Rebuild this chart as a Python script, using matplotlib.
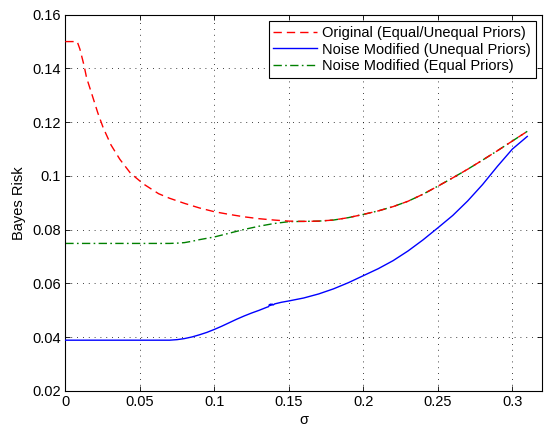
import matplotlib
matplotlib.use("Agg")
import matplotlib.pyplot as plt

plt.rcParams['font.family'] = ['Liberation Sans', 'DejaVu Sans']

# --- data ---
x_orig = [0, 0.008, 0.0098, 0.0125, 0.0143, 0.0175, 0.0218, 0.0254, 0.0307, 0.0366,
          0.0438, 0.0525, 0.0626, 0.07, 0.08, 0.09, 0.10, 0.11, 0.12, 0.13, 0.14,
          0.15, 0.16, 0.17, 0.18, 0.19, 0.20, 0.21, 0.22, 0.23, 0.24, 0.25, 0.26,
          0.27, 0.28, 0.29, 0.30, 0.31]
y_orig = [0.15, 0.15, 0.1472, 0.1413, 0.1365, 0.131, 0.1235, 0.118, 0.1115, 0.1062,
          0.101, 0.097, 0.0934, 0.0917, 0.0898, 0.0881, 0.0867, 0.0857, 0.0848, 0.0841, 0.0836,
          0.0832, 0.0831, 0.0832, 0.0836, 0.0845, 0.0857, 0.0870, 0.0886, 0.0906, 0.0932, 0.0962, 0.0993,
          0.1025, 0.1059, 0.1094, 0.1130, 0.1166]

x_eq = [0, 0.03, 0.06, 0.07, 0.075, 0.08, 0.085, 0.09, 0.10, 0.11, 0.12, 0.13, 0.14,
        0.15, 0.16, 0.17, 0.18, 0.19, 0.20, 0.21, 0.22, 0.23, 0.24, 0.25, 0.26,
        0.27, 0.28, 0.29, 0.30, 0.31]
y_eq = [0.0749, 0.0749, 0.0749, 0.0749, 0.0750, 0.0752, 0.0757, 0.0763, 0.0773, 0.0787, 0.0801, 0.0813, 0.0823,
        0.0830, 0.0831, 0.0832, 0.0836, 0.0845, 0.0857, 0.0870, 0.0886, 0.0906, 0.0932, 0.0962, 0.0993,
        0.1025, 0.1059, 0.1094, 0.1130, 0.1166]

x_uneq = [0, 0.03, 0.06, 0.065, 0.07, 0.075, 0.08, 0.085, 0.09, 0.095, 0.10, 0.105, 0.11, 0.115,
          0.12, 0.125, 0.13, 0.135, 0.1365, 0.137, 0.1375, 0.138, 0.1385, 0.139, 0.1395,
          0.1405, 0.145, 0.15, 0.16, 0.17, 0.18, 0.19, 0.20, 0.21, 0.22, 0.23, 0.24,
          0.25, 0.26, 0.27, 0.28, 0.29, 0.30, 0.31]
y_uneq = [0.0389, 0.0389, 0.0389, 0.0389, 0.0389, 0.0391, 0.0395, 0.0401, 0.0409, 0.0418, 0.0429, 0.0441, 0.0454, 0.0467,
          0.0479, 0.0490, 0.0500, 0.0511, 0.0514, 0.0522, 0.0518, 0.0524, 0.0519, 0.0523, 0.0520,
          0.0524, 0.0530, 0.0535, 0.0546, 0.0561, 0.0580, 0.0603, 0.0629, 0.0655, 0.0685, 0.0721, 0.0762,
          0.0807, 0.0853, 0.0907, 0.0968, 0.1036, 0.1100, 0.1147]

labels = ['Original (Equal/Unequal Priors)',
          'Noise Modified (Unequal Priors)',
          'Noise Modified (Equal Priors)']
xticks = [0, 0.05, 0.1, 0.15, 0.2, 0.25, 0.3]
xticklabels = ['0', '0.05', '0.1', '0.15', '0.2', '0.25', '0.3']
yticks = [0.02, 0.04, 0.06, 0.08, 0.1, 0.12, 0.14, 0.16]
yticklabels = ['0.02', '0.04', '0.06', '0.08', '0.1', '0.12', '0.14', '0.16']

fig = plt.figure(figsize=(5.45, 4.26), dpi=100)
ax = fig.add_axes([0.1198, 0.0822, 0.875, 0.8833])

lw = 1.0
ax.plot(x_orig, y_orig, color='#ff0000', lw=lw, dashes=(6, 3.6), label=labels[0], zorder=3)
ax.plot(x_uneq, y_uneq, color='#0000ff', lw=lw, label=labels[1], zorder=3)
ax.plot(x_eq, y_eq, color='#008000', lw=lw, dashes=(6, 2.4, 1.2, 2.4), label=labels[2], zorder=2)

ax.set_xlim(0, 0.32)
ax.set_ylim(0.02, 0.16)
ax.set_xticks(xticks)
ax.set_xticklabels(xticklabels)
ax.set_yticks(yticks)
ax.set_yticklabels(yticklabels)
ax.tick_params(direction='in', top=True, right=True, length=3.5, width=0.6,
               labelsize=10.5, colors='black', pad=3)
for s in ax.spines.values():
    s.set_linewidth(0.8)
    s.set_color('black')

ax.grid(True, color='black', linestyle=(0, (1, 6)), linewidth=0.6)

ax.set_xlabel('σ', fontsize=10.5, labelpad=3)
ax.set_ylabel('Bayes Risk', fontsize=10.5, labelpad=5)

leg = ax.legend(loc='upper right', fontsize=10.5, fancybox=False, framealpha=1,
                edgecolor='black', handlelength=3.0, handletextpad=0.4,
                labelspacing=0.2, borderpad=0.3, borderaxespad=0.45)
leg.get_frame().set_linewidth(0.8)

fig.savefig('out.png', dpi=100)
